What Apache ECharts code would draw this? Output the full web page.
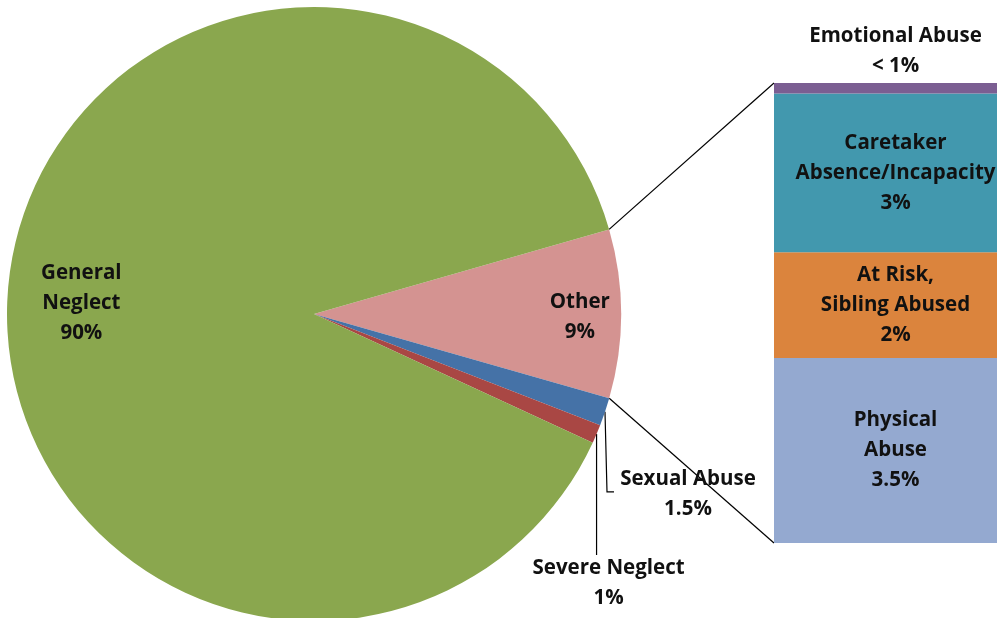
<!DOCTYPE html>
<html>
<head>
<meta charset="utf-8">
<script src="https://cdn.jsdelivr.net/npm/echarts@6/dist/echarts.min.js"></script>
<style>
  html, body { margin: 0; padding: 0; background: #ffffff; }
  #chart { width: 997px; height: 618px; }
</style>
</head>
<body>
<div id="chart"></div>
<script>
// Maltreatment categories shown in the pie
const pieNames = ['Other', 'Sexual Abuse', 'Severe Neglect', 'General\nNeglect'];
const pieValues = [9, 1.5, 1, 90];
const pieValueLabels = ['9%', '1.5%', '1%', '90%'];
const pieColors = ['#D49391', '#4572A7', '#A94744', '#8AA74E'];

// Breakdown of the "Other" slice, stacked bottom to top
const barNames = ['Physical\nAbuse', 'At Risk,\nSibling Abused', 'Caretaker\nAbsence/Incapacity', 'Emotional Abuse'];
const barValues = [3.5, 2, 3, 0.2];
const barValueLabels = ['3.5%', '2%', '3%', '< 1%'];
const barColors = ['#94A9D0', '#DB843D', '#4298AE', '#7B5E92'];

// Layout (the stacked bar runs slightly past the right edge of the canvas)
const FONT = '"Open Sans"';
const TEXT = '#111111';
const PIE_CX = 314, PIE_CY = 314, PIE_R = 307, START_ANGLE = 16;
const GRID = { left: 774, top: 83, width: 243, height: 460 };

// Placement of each pie label: 'radial' = fraction of radius along the mid-angle,
// 'edge' = offset from the point where the mid-angle meets the rim, with a leader line
const pieLabelPlacement = [
  { mode: 'radial', k: 0.866, dy: 3 },
  { mode: 'edge', dx: 83, dy: 82, leader: [[2, 80], [9, 80]] },
  { mode: 'edge', dx: 12, dy: 149, leader: [[0, 121]] },
  { mode: 'radial', k: 0.76, dy: 7 }
];

const pieTotal = pieValues.reduce((a, b) => a + b, 0);
const barTotal = barValues.reduce((a, b) => a + b, 0);

// Boundary angles (degrees, counter-clockwise from 3 o'clock) of each slice
const sliceBounds = [];
{
  let acc = 0;
  pieValues.forEach(v => {
    const a0 = START_ANGLE - 360 * acc / pieTotal;
    acc += v;
    const a1 = START_ANGLE - 360 * acc / pieTotal;
    sliceBounds.push([a0, a1]);
  });
}
function polar(angleDeg, r) {
  const a = angleDeg * Math.PI / 180;
  return [PIE_CX + r * Math.cos(a), PIE_CY - r * Math.sin(a)];
}
function midAngle(i) { return (sliceBounds[i][0] + sliceBounds[i][1]) / 2; }
function labelAnchor(i) {
  const p = pieLabelPlacement[i];
  if (p.mode === 'radial') {
    const q = polar(midAngle(i), PIE_R * p.k);
    return [q[0], q[1] + (p.dy || 0)];
  }
  const e = polar(midAngle(i), PIE_R);
  return [e[0] + p.dx, e[1] + p.dy];
}

const labelStyle = {
  fontFamily: FONT, fontWeight: 'bold', fontSize: 20.5, lineHeight: 30, color: TEXT
};

const chart = echarts.init(document.getElementById('chart'), null, { renderer: 'canvas' });

const option = {
  animation: false,
  backgroundColor: '#ffffff',
  grid: {
    left: GRID.left, top: GRID.top, width: GRID.width, height: GRID.height,
    containLabel: false, outerBoundsMode: 'none'
  },
  xAxis: { type: 'category', data: ['Other'], show: false },
  yAxis: { type: 'value', min: 0, max: barTotal, show: false },
  series: [
    {
      type: 'pie',
      silent: true,
      center: [PIE_CX, PIE_CY],
      radius: [0, PIE_R],
      startAngle: START_ANGLE,
      clockwise: true,
      avoidLabelOverlap: false,
      itemStyle: { borderWidth: 0 },
      label: Object.assign({
        show: true,
        position: 'inside',
        align: 'center',
        formatter: p => pieNames[p.dataIndex] + '\n' + pieValueLabels[p.dataIndex]
      }, labelStyle),
      labelLine: { show: false },
      labelLayout: params => {
        const a = labelAnchor(params.dataIndex);
        return { x: a[0], y: a[1], align: 'center', verticalAlign: 'middle' };
      },
      data: pieValues.map((v, i) => ({ name: pieNames[i], value: v, itemStyle: { color: pieColors[i] } }))
    },
    ...barValues.map((v, i) => ({
      type: 'bar',
      name: barNames[i],
      stack: 'other',
      silent: true,
      barWidth: '100%',
      itemStyle: { color: barColors[i] },
      label: Object.assign({
        show: true,
        position: i === barValues.length - 1 ? 'top' : 'inside',
        distance: 2,
        align: 'center',
        formatter: () => barNames[i] + '\n' + barValueLabels[i]
      }, labelStyle),
      data: [v]
    }))
  ]
};
chart.setOption(option);

// Connector and leader lines, derived from the pie geometry and the bar axis
function lineEl(points) {
  return {
    type: 'polyline',
    silent: true,
    shape: { points },
    style: { stroke: '#000000', lineWidth: 1.2, fill: null }
  };
}
const otherTop = polar(sliceBounds[0][0], PIE_R);
const otherBottom = polar(sliceBounds[0][1], PIE_R);
const barTopY = chart.convertToPixel({ yAxisIndex: 0 }, barTotal);
const barBottomY = chart.convertToPixel({ yAxisIndex: 0 }, 0);
const graphics = [
  lineEl([otherTop, [GRID.left, barTopY]]),
  lineEl([otherBottom, [GRID.left, barBottomY]])
];
pieLabelPlacement.forEach((p, i) => {
  if (!p.leader) return;
  const e = polar(midAngle(i), PIE_R);
  graphics.push(lineEl([e].concat(p.leader.map(d => [e[0] + d[0], e[1] + d[1]]))));
});
chart.setOption({ graphic: graphics });
</script>
</body>
</html>
